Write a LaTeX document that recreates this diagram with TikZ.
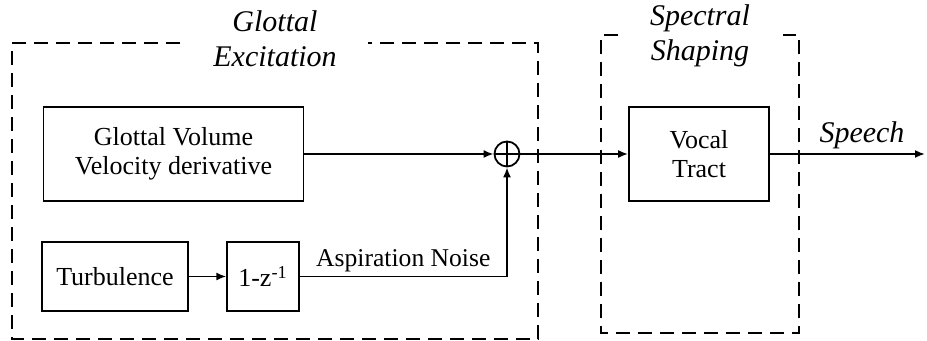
\documentclass[tikz,border=0pt]{standalone}
\usepackage{fontspec}
\setmainfont{Liberation Serif}
\usepackage{tikz}
\usetikzlibrary{positioning,arrows.meta,calc}
\tikzset{
  blk/.style={draw,line width=0.9pt,align=center,font=\fontsize{13}{14.5}\selectfont,inner sep=2pt},
  grp/.style={draw,line width=0.8pt,dash pattern=on 7pt off 4pt},
  ttl/.style={align=center,font=\itshape\fontsize{15}{17.5}\selectfont},
  sig/.style={line width=0.9pt,-{Latex[length=5pt,width=4pt]}}
}

\begin{document}
\begin{tikzpicture}[x=0.5pt,y=0.5pt]
\useasboundingbox (0,0) rectangle (927,341);
% glottal excitation group
\draw[grp] (180,298) -- (12,298) -- (12,2) -- (538,2) -- (538,298) -- (368,298);
\node[ttl] (gtitle) at (275,302) {Glottal\\Excitation};
% spectral shaping group
\draw[grp] (618,306) -- (601,306) -- (601,8) -- (799,8) -- (799,306) -- (783,306);
\node[ttl] (stitle) at (700,305) {Spectral\\Shaping};
% blocks
\node[blk,minimum width=130pt,minimum height=47pt] (gv) at (173.5,187) {Glottal Volume\\Velocity derivative};
\node[blk,minimum width=72.75pt,minimum height=34.5pt] (turb) at (115,64.5) {Turbulence};
\node[blk,minimum width=35.75pt,minimum height=34.5pt,font=\fontsize{13}{15}\selectfont] (filt) at (263,64.5) {1-z\textsuperscript{-1}};
\node[draw,circle,line width=0.9pt,minimum size=12.5pt,inner sep=0pt] (sum) at (507,187) {};
\draw[line width=0.9pt] (sum.north) -- (sum.south) (sum.west) -- (sum.east);
\node[blk,minimum width=70pt,minimum height=47pt] (vt) at (699,187) {Vocal\\Tract};
\coordinate (out) at (925,187);
\coordinate (corner) at (sum |- filt.east);
% signal flow
\draw[sig] (gv.east) -- (sum.west);
\draw[sig] (turb.east) -- (filt.west);
\draw[sig] (filt.east) -- (corner) -- (sum.south);
\node[font=\fontsize{12.8}{14}\selectfont,above,inner sep=2pt] (asp) at ($(filt.east)!0.5!(corner)$) {Aspiration Noise};
\draw[sig] (sum.east) -- (vt.west);
\draw[sig] (vt.east) -- (out);
\node[ttl] (speech) at (862,206) {Speech};
\end{tikzpicture}
\end{document}
